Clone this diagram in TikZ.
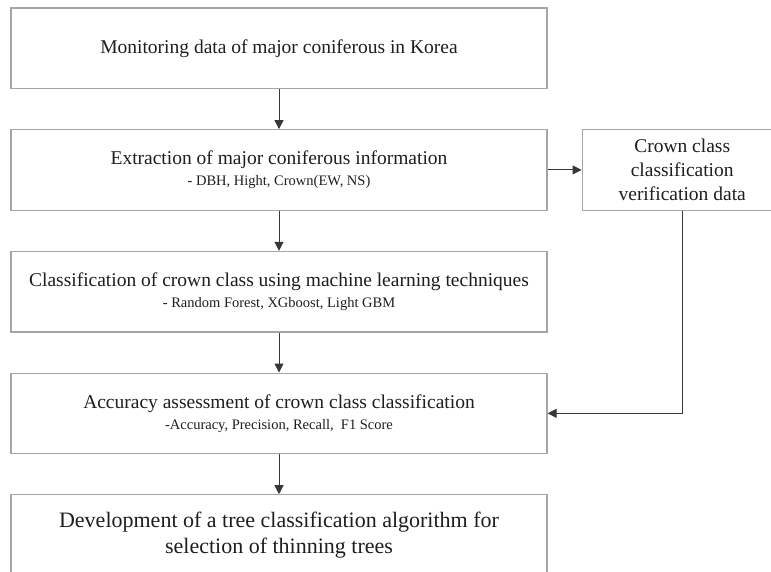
\documentclass[tikz,border=0pt]{standalone}
\usepackage{fontspec}
\setmainfont{Liberation Serif}
\usepackage{tikz}
\usetikzlibrary{arrows.meta}
\usetikzlibrary{positioning}
\definecolor{boxgray}{RGB}{165,165,165}
\definecolor{linegray}{RGB}{55,55,55}
\definecolor{textblack}{RGB}{30,30,30}

\begin{document}
\begin{tikzpicture}[x=1pt,y=-1pt,every node/.style={draw=boxgray,line width=1.2pt,align=center,inner sep=0pt,text=textblack},flowbox/.style={minimum width=536pt,minimum height=80.5pt,font=\fontsize{19.5}{22}\selectfont},sidebox/.style={minimum width=200pt,minimum height=80.5pt,font=\fontsize{19.5}{24}\selectfont},flowarrow/.style={draw=linegray,line width=1pt,-{Triangle[length=9pt,width=9pt]}},node distance=40pt]
	
	\useasboundingbox (0,0) rectangle (771,571);
	
	\node[flowbox] (mon) at (279,48.25) {Monitoring data of major coniferous in Korea};
	\node[flowbox,below=of mon] (ext) {Extraction of major coniferous information\\[-1pt]
		{\fontsize{14.5}{16}\selectfont - DBH, Hight, Crown(EW, NS)}};
	\node[flowbox,below=of ext] (cls) {Classification of crown class using machine learning techniques\\[-1pt]
		{\fontsize{14.5}{16}\selectfont - Random Forest, XGboost, Light GBM}};
	\node[flowbox,below=of cls] (acc) {Accuracy assessment of crown class classification\\[-1pt]
		{\fontsize{14.5}{16}\selectfont -Accuracy, Precision, Recall,\ \ F1 Score}};
	\node[flowbox,below=of acc,font=\fontsize{22}{26}\selectfont] (dev) {Development of a tree classification algorithm for\\selection of thinning trees};
	\node[sidebox,right=34pt of ext] (ver) {Crown class\\classification\\verification data};
	
	\draw[flowarrow] (mon) -- (ext);
	\draw[flowarrow] (ext) -- (cls);
	\draw[flowarrow] (cls) -- (acc);
	\draw[flowarrow] (acc) -- (dev);
	\draw[flowarrow] (ext) -- (ver);
	\draw[flowarrow] (ver.south) |- (acc.east);
	
\end{tikzpicture}
\end{document}
